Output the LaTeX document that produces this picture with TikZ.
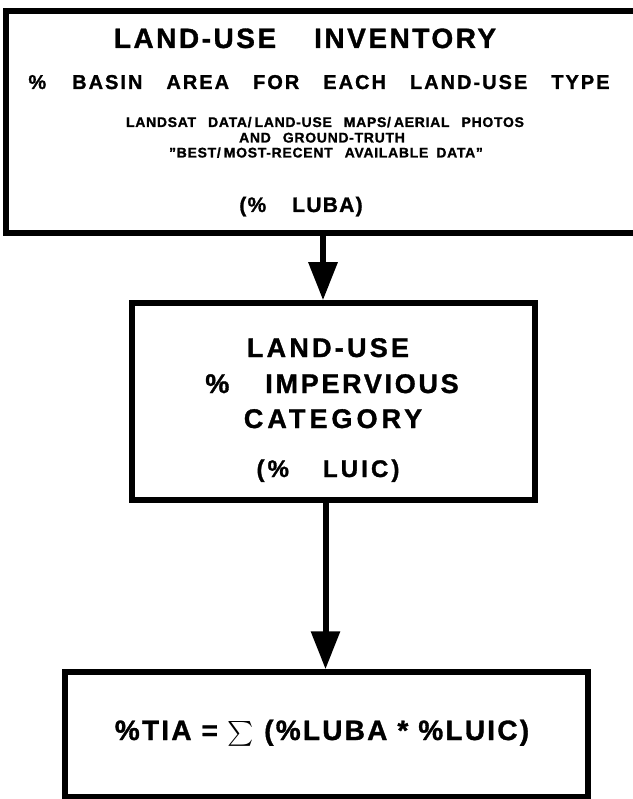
\documentclass[tikz,border=0pt]{standalone}
\usepackage{amsmath}
\usepackage{fontspec}
\setmainfont{Liberation Sans}[BoldFeatures={FakeBold=1.2}]
\usetikzlibrary{arrows.meta, positioning}

\newcommand{\trk}[2]{{\addfontfeature{LetterSpace=#1}#2}}
\newcommand{\dq}{\symbol{34}}

\begin{document}
\begin{tikzpicture}[x=1pt, y=-1pt,
                    box/.style={draw, line width=5.5pt, inner sep=0pt},
                    arr/.style={-{Triangle[length=38pt, width=28pt]}, line width=6pt},
                    txt/.style={anchor=base, inner sep=0pt},
                    big/.style={txt, font=\bfseries\fontsize{28}{30}\selectfont},
                    mid/.style={txt, font=\bfseries\fontsize{20}{22}\selectfont},
                    sml/.style={txt, font=\bfseries\fontsize{14}{16}\selectfont}]
    \useasboundingbox (0,0) rectangle (632,799);
    % boxes
    \node[box, minimum width=634pt, minimum height=222pt] (inv) at (323,122) {};
    \node[box, minimum width=403pt, minimum height=197pt,
          below=64.5pt of inv, xshift=10.5pt] (luic) {};
    \node[box, minimum width=523pt, minimum height=125pt,
          below=166.5pt of luic, xshift=-7pt] (tia) {};
    \draw[arr] (inv.south) -- (inv.south |- luic.north);
    \draw[arr] ([xshift=-8pt]luic.south) -- ([xshift=-8pt]luic.south |- tia.north);
    % land-use inventory
    \node[big] (invtitle) at (305,48) {\trk{9}{LAND-USE}\hspace{38pt}\trk{9}{INVENTORY}};
    \node[mid] (invsub) at (319,89) {\trk{10}{\%\hspace{26pt}BASIN\hspace{24pt}AREA\hspace{24pt}FOR\hspace{24pt}EACH\hspace{24pt}LAND-USE\hspace{24pt}TYPE}};
    \node[sml] (invsrcA) at (325,127) {\trk{5}{LANDSAT\hspace{12pt}DATA/\hspace{3pt}LAND-USE\hspace{12pt}MAPS/\hspace{3pt}AERIAL\hspace{12pt}PHOTOS}};
    \node[sml] (invsrcB) at (322,142.5) {\trk{5}{AND\hspace{12pt}GROUND-TRUTH}};
    \node[sml] (invsrcC) at (326,157.5) {\trk{5}{\dq BEST/\hspace{3pt}MOST-RECENT\hspace{12pt}AVAILABLE\hspace{8pt}DATA\dq}};
    \node[txt, font=\bfseries\fontsize{21}{23}\selectfont] (luba) at (301,212) {\trk{6}{(\%\hspace{26pt}LUBA)}};
    % impervious category
    \node[txt, font=\bfseries\fontsize{27}{29}\selectfont] (luicA) at (328,357) {\trk{12}{LAND-USE}};
    \node[txt, font=\bfseries\fontsize{27}{29}\selectfont] (luicB) at (332,393) {\trk{10}{\%\hspace{36pt}IMPERVIOUS}};
    \node[txt, font=\bfseries\fontsize{27}{29}\selectfont] (luicC) at (333,428) {\trk{15}{CATEGORY}};
    \node[txt, font=\bfseries\fontsize{24}{26}\selectfont] (luicD) at (328,477) {\trk{13}{(\%\hspace{34pt}LUIC)}};
    % total impervious area
    \node[big] (tiaeq) at (322,740) {\trk{8}{\%TIA = $\sum$ (\%LUBA * \%LUIC)}};
\end{tikzpicture}
\end{document}
